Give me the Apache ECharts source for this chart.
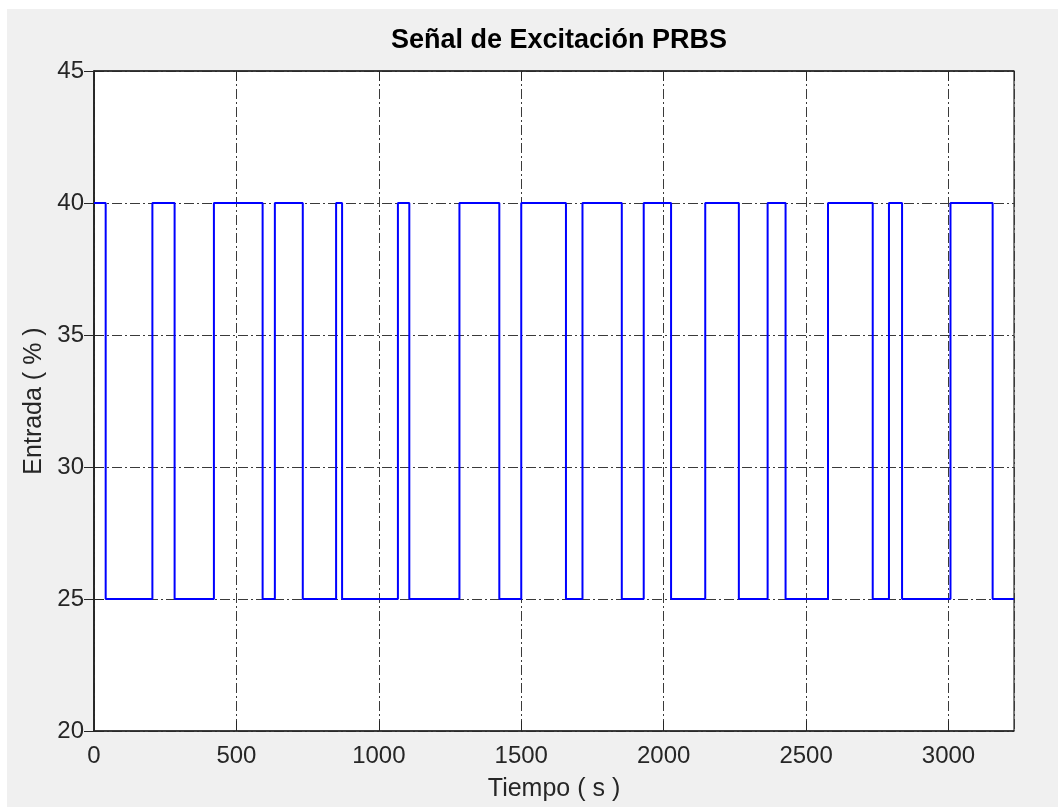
<!DOCTYPE html>
<html>
<head>
<meta charset="utf-8">
<script src="https://cdn.jsdelivr.net/npm/echarts@6/dist/echarts.min.js"></script>
<style>
html,body{margin:0;padding:0;background:#ffffff;}
#chart{width:1058px;height:807px;}
</style>
</head>
<body>
<div id="chart"></div>
<script>
// Switching instants (s) and the level held from each instant on (%)
var switchTimes = [0, 41, 205, 283, 421, 592, 635, 733, 850, 871, 1067, 1107, 1283, 1423, 1500, 1657, 1715, 1853, 1930, 2026, 2146, 2264, 2365, 2428, 2577, 2734, 2791, 2837, 3007, 3155, 3230];
var levels      = [40, 25, 40, 25, 40, 25, 40, 25, 40, 25, 40, 25, 40, 25, 40, 25, 40, 25, 40, 25, 40, 25, 40, 25, 40, 25, 40, 25, 40, 25, 25];
var xTicks = [0, 500, 1000, 1500, 2000, 2500, 3000];
var yTicks = [20, 25, 30, 35, 40, 45];
var titleText = 'Señal de Excitación PRBS';
var xName = 'Tiempo ( s )';
var yName = 'Entrada ( % )';

var data = switchTimes.map(function (t, i) { return [t, levels[i]]; });
var FONT = '"Liberation Sans", Arial, Helvetica, sans-serif';
var gridStyle = { color: '#3a3a3a', width: 1, type: [10, 3, 2, 3] };

var chart = echarts.init(document.getElementById('chart'), null, { renderer: 'canvas' });
chart.setOption({
  backgroundColor: '#F0F0F0',
  animation: false,
  title: {
    text: titleText,
    left: 554, textAlign: 'center', top: 22,
    textStyle: { fontFamily: FONT, fontSize: 27, fontWeight: 'bold', color: '#000' }
  },
  graphic: [
    { type: 'rect', left: 0, top: 0, shape: { width: 1058, height: 9 }, style: { fill: '#ffffff' }, z: -1 },
    { type: 'rect', left: 0, top: 0, shape: { width: 7, height: 807 }, style: { fill: '#ffffff' }, z: -1 }
  ],
  grid: { left: 94, right: 44, top: 71, bottom: 74, show: true, backgroundColor: '#ffffff', borderColor: '#000', borderWidth: 1 },
  xAxis: [{
    type: 'value', min: 0, max: 3230, interval: 500, position: 'bottom',
    name: xName, nameLocation: 'middle', nameGap: 46,
    nameTextStyle: { fontFamily: FONT, fontSize: 25, color: '#262626' },
    axisLine: { show: true, lineStyle: { color: '#262626', width: 1.5 } },
    axisTick: { show: true, inside: true, length: 10, lineStyle: { color: '#262626' } },
    axisLabel: { fontFamily: FONT, fontSize: 24, color: '#262626', margin: 13, showMaxLabel: false,
      formatter: function (v) { return xTicks.indexOf(v) >= 0 ? String(v) : ''; } },
    splitLine: { show: true, lineStyle: gridStyle }
  }, {
    type: 'value', min: 0, max: 3230, interval: 500, position: 'top',
    axisLine: { show: true, lineStyle: { color: '#262626', width: 1.5 } },
    axisTick: { show: true, inside: true, length: 10, lineStyle: { color: '#262626' } },
    axisLabel: { show: false }, splitLine: { show: false }
  }],
  yAxis: [{
    type: 'value', min: 20, max: 45, interval: 5, position: 'left',
    name: yName, nameLocation: 'middle', nameGap: 41,
    nameTextStyle: { fontFamily: FONT, fontSize: 25, color: '#262626' },
    axisLine: { show: true, lineStyle: { color: '#262626', width: 1.5 } },
    axisTick: { show: true, inside: true, length: 10, lineStyle: { color: '#262626' } },
    axisLabel: { fontFamily: FONT, fontSize: 24, color: '#262626', margin: 10,
      formatter: function (v) { return yTicks.indexOf(v) >= 0 ? String(v) : ''; } },
    splitLine: { show: true, lineStyle: gridStyle }
  }, {
    type: 'value', min: 20, max: 45, interval: 5, position: 'right',
    axisLine: { show: true, lineStyle: { color: '#262626', width: 1.5 } },
    axisTick: { show: true, inside: true, length: 10, lineStyle: { color: '#262626' } },
    axisLabel: { show: false }, splitLine: { show: false }
  }],
  series: [{
    type: 'line', xAxisIndex: 0, yAxisIndex: 0,
    step: 'end', data: data, symbol: 'none',
    lineStyle: { color: '#0000FF', width: 2 }
  }]
});
</script>
</body>
</html>
